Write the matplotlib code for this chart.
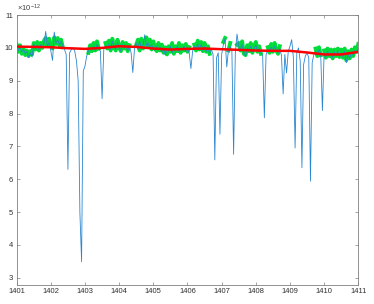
import matplotlib
matplotlib.use("Agg")
import matplotlib.pyplot as plt
import numpy as np

plt.rcParams.update({
    "font.family": ["Liberation Sans", "DejaVu Sans"],
    "font.size": 5.5,
    "mathtext.fontset": "custom",
    "mathtext.rm": "Liberation Sans",
    "mathtext.it": "Liberation Sans",
})

nan = np.nan

# sampling times (one sample every 0.05)
t = np.round(np.linspace(1401, 1411, 201), 2)

# raw signal (x1e-12)
raw = [
    10.05, 9.92, 10.02, 9.88, 9.95, 9.82, 9.90, 9.70, 9.85, 9.72,
    10.12, 9.98, 10.08, 9.95, 10.10, 10.02, 10.15, 10.50, 10.05, 10.18,
    9.90, 9.62, 10.48, 10.15, 10.25, 10.10, 10.20, 10.05, 9.95, 9.80,
    6.30, 9.85, 9.95, 10.00, 9.90, 9.60, 9.00, 5.00, 3.49, 9.30,
    9.45, 9.75, 9.90, 10.00, 9.95, 10.05, 9.92, 10.10, 9.98, 9.90,
    8.45, 9.95, 10.08, 10.00, 10.12, 9.95, 10.20, 10.05, 9.95, 10.15,
    10.02, 9.90, 10.10, 10.00, 10.05, 9.92, 10.05, 9.85, 9.25, 10.00,
    10.15, 9.95, 10.20, 10.00, 10.10, 10.40, 10.05, 10.15, 9.98, 10.10,
    10.00, 9.92, 10.05, 9.95, 10.02, 9.88, 9.95, 9.78, 9.98, 9.90,
    10.05, 9.85, 9.98, 9.92, 10.05, 9.88, 10.00, 9.95, 10.05, 9.90,
    9.98, 9.85, 9.37, 9.90, 10.05, 9.95, 10.12, 9.98, 10.10, 9.92,
    10.05, 9.90, 9.98, 9.85, 9.95, 9.80, 6.59, 9.70, 9.85, 7.37,
    9.80, 10.10, 10.28, 9.42, 9.95, 10.05, 9.90, 6.76, 9.85, 10.42,
    10.05, 9.95, 10.10, 9.85, 9.75, 10.00, 9.92, 10.05, 9.88, 9.98,
    10.08, 9.90, 9.98, 9.85, 9.78, 7.87, 9.80, 9.95, 9.88, 10.02,
    9.90, 10.05, 9.95, 9.85, 9.98, 9.78, 8.60, 9.80, 9.24, 9.90,
    10.05, 10.25, 9.70, 6.95, 9.85, 10.00, 9.60, 6.35, 9.50, 9.75,
    9.85, 9.70, 5.94, 9.55, 9.80, 9.90, 9.78, 9.95, 9.80, 8.09,
    9.85, 9.72, 9.90, 9.78, 9.85, 9.70, 9.88, 9.78, 9.90, 9.75,
    9.85, 9.72, 9.90, 9.55, 9.82, 9.68, 9.85, 9.78, 9.92, 9.85,
    9.95,
]

# cleaned signal, dips removed (x1e-12)
clean = [
    10.10, 9.88, 10.08, 9.82, 9.98, 9.78, 9.92, 9.75, 9.90, 9.80,
    10.15, 9.95, 10.18, 9.92, 10.15, 10.00, 10.22, 10.30, 10.05, 10.28,
    10.05, 9.98, 10.32, 10.12, 10.30, 10.08, 10.25, 10.02, nan, nan,
    nan, nan, nan, nan, nan, nan, nan, nan, nan, nan,
    nan, nan, 9.85, 10.08, 9.90, 10.15, 9.92, 10.20, 9.98, nan,
    nan, nan, 10.15, 9.98, 10.22, 9.92, 10.28, 10.02, 9.92, 10.25,
    10.00, 9.90, 10.18, 9.98, 10.15, 9.90, 10.08, nan, nan, nan,
    10.10, 10.25, 9.92, 10.28, 9.98, 10.18, 10.32, 10.02, 10.25, 9.95,
    10.20, 9.98, 9.90, 10.15, 9.92, 10.10, 9.85, 10.02, 9.80, 10.05,
    9.88, 10.15, 9.82, 10.05, 9.90, 10.15, 9.85, 10.08, 9.92, 10.12,
    9.88, 10.02, nan, nan, 10.10, 9.92, 10.22, 9.95, 10.18, 9.90,
    10.15, 9.88, 10.05, 9.82, nan, nan, nan, nan, nan, nan,
    nan, 10.18, 10.30, nan, 9.92, 10.15, nan, nan, nan, 10.10,
    10.15, 9.92, 10.20, 9.82, 9.78, 10.08, 9.90, 10.15, 9.85, 10.05,
    10.18, 9.88, 10.05, 9.82, nan, nan, nan, 10.02, 9.85, 10.12,
    9.88, 10.15, 9.92, 9.82, 10.05, nan, nan, nan, nan, nan,
    nan, nan, nan, nan, nan, nan, nan, nan, nan, nan,
    nan, nan, nan, nan, nan, 9.98, 9.75, 10.02, 9.78, nan,
    9.92, 9.70, 9.98, 9.75, 9.95, 9.68, 9.95, 9.75, 9.98, 9.72,
    9.95, 9.70, 9.98, 9.62, 9.90, 9.68, 9.95, 9.75, 10.02, 9.88,
    10.12,
]

# slow trend (x1e-12)
t_trend = [1401, 1401.5, 1402, 1402.5, 1403, 1403.5, 1404, 1404.5, 1405, 1405.5,
           1406, 1406.5, 1407, 1407.5, 1408, 1408.5, 1409, 1409.5, 1410, 1410.5, 1411]
trend = [10.04, 10.03, 10.02, 9.99, 9.97, 10.00, 10.05, 10.03, 9.98, 9.95,
         9.97, 9.98, 9.96, 9.94, 9.92, 9.91, 9.91, 9.86, 9.80, 9.80, 9.88]

x_ticks = list(range(1401, 1412))
y_ticks = [3, 4, 5, 6, 7, 8, 9, 10, 11]

fig = plt.figure(figsize=(3.74, 3.04), dpi=100)
ax = fig.add_axes([0.0446, 0.0625, 0.9134, 0.888])

ax.plot(t, clean, color="#00DD3A", linewidth=2.8, zorder=2)
ax.plot(t, raw, color="#2A86CF", linewidth=0.6, zorder=3)
ax.plot(t_trend, trend, color="#FF0000", linewidth=1.8, zorder=4)

ax.set_xlim(1401, 1411)
ax.set_ylim(2.78, 11.0)
ax.set_xticks(x_ticks)
ax.set_yticks(y_ticks)

# exponent label, MATLAB style
ax.text(0.0, 1.005, r"$\times10^{-12}$", transform=ax.transAxes,
        ha="left", va="bottom", fontsize=5.5, color="#404040")

ax.tick_params(direction="in", length=2.5, width=0.5, colors="#808080",
               labelcolor="#303030", labelsize=5.5, top=True, right=True, pad=2.5)
for sp in ax.spines.values():
    sp.set_color("#808080")
    sp.set_linewidth(0.6)

fig.savefig("out.png", dpi=100)
